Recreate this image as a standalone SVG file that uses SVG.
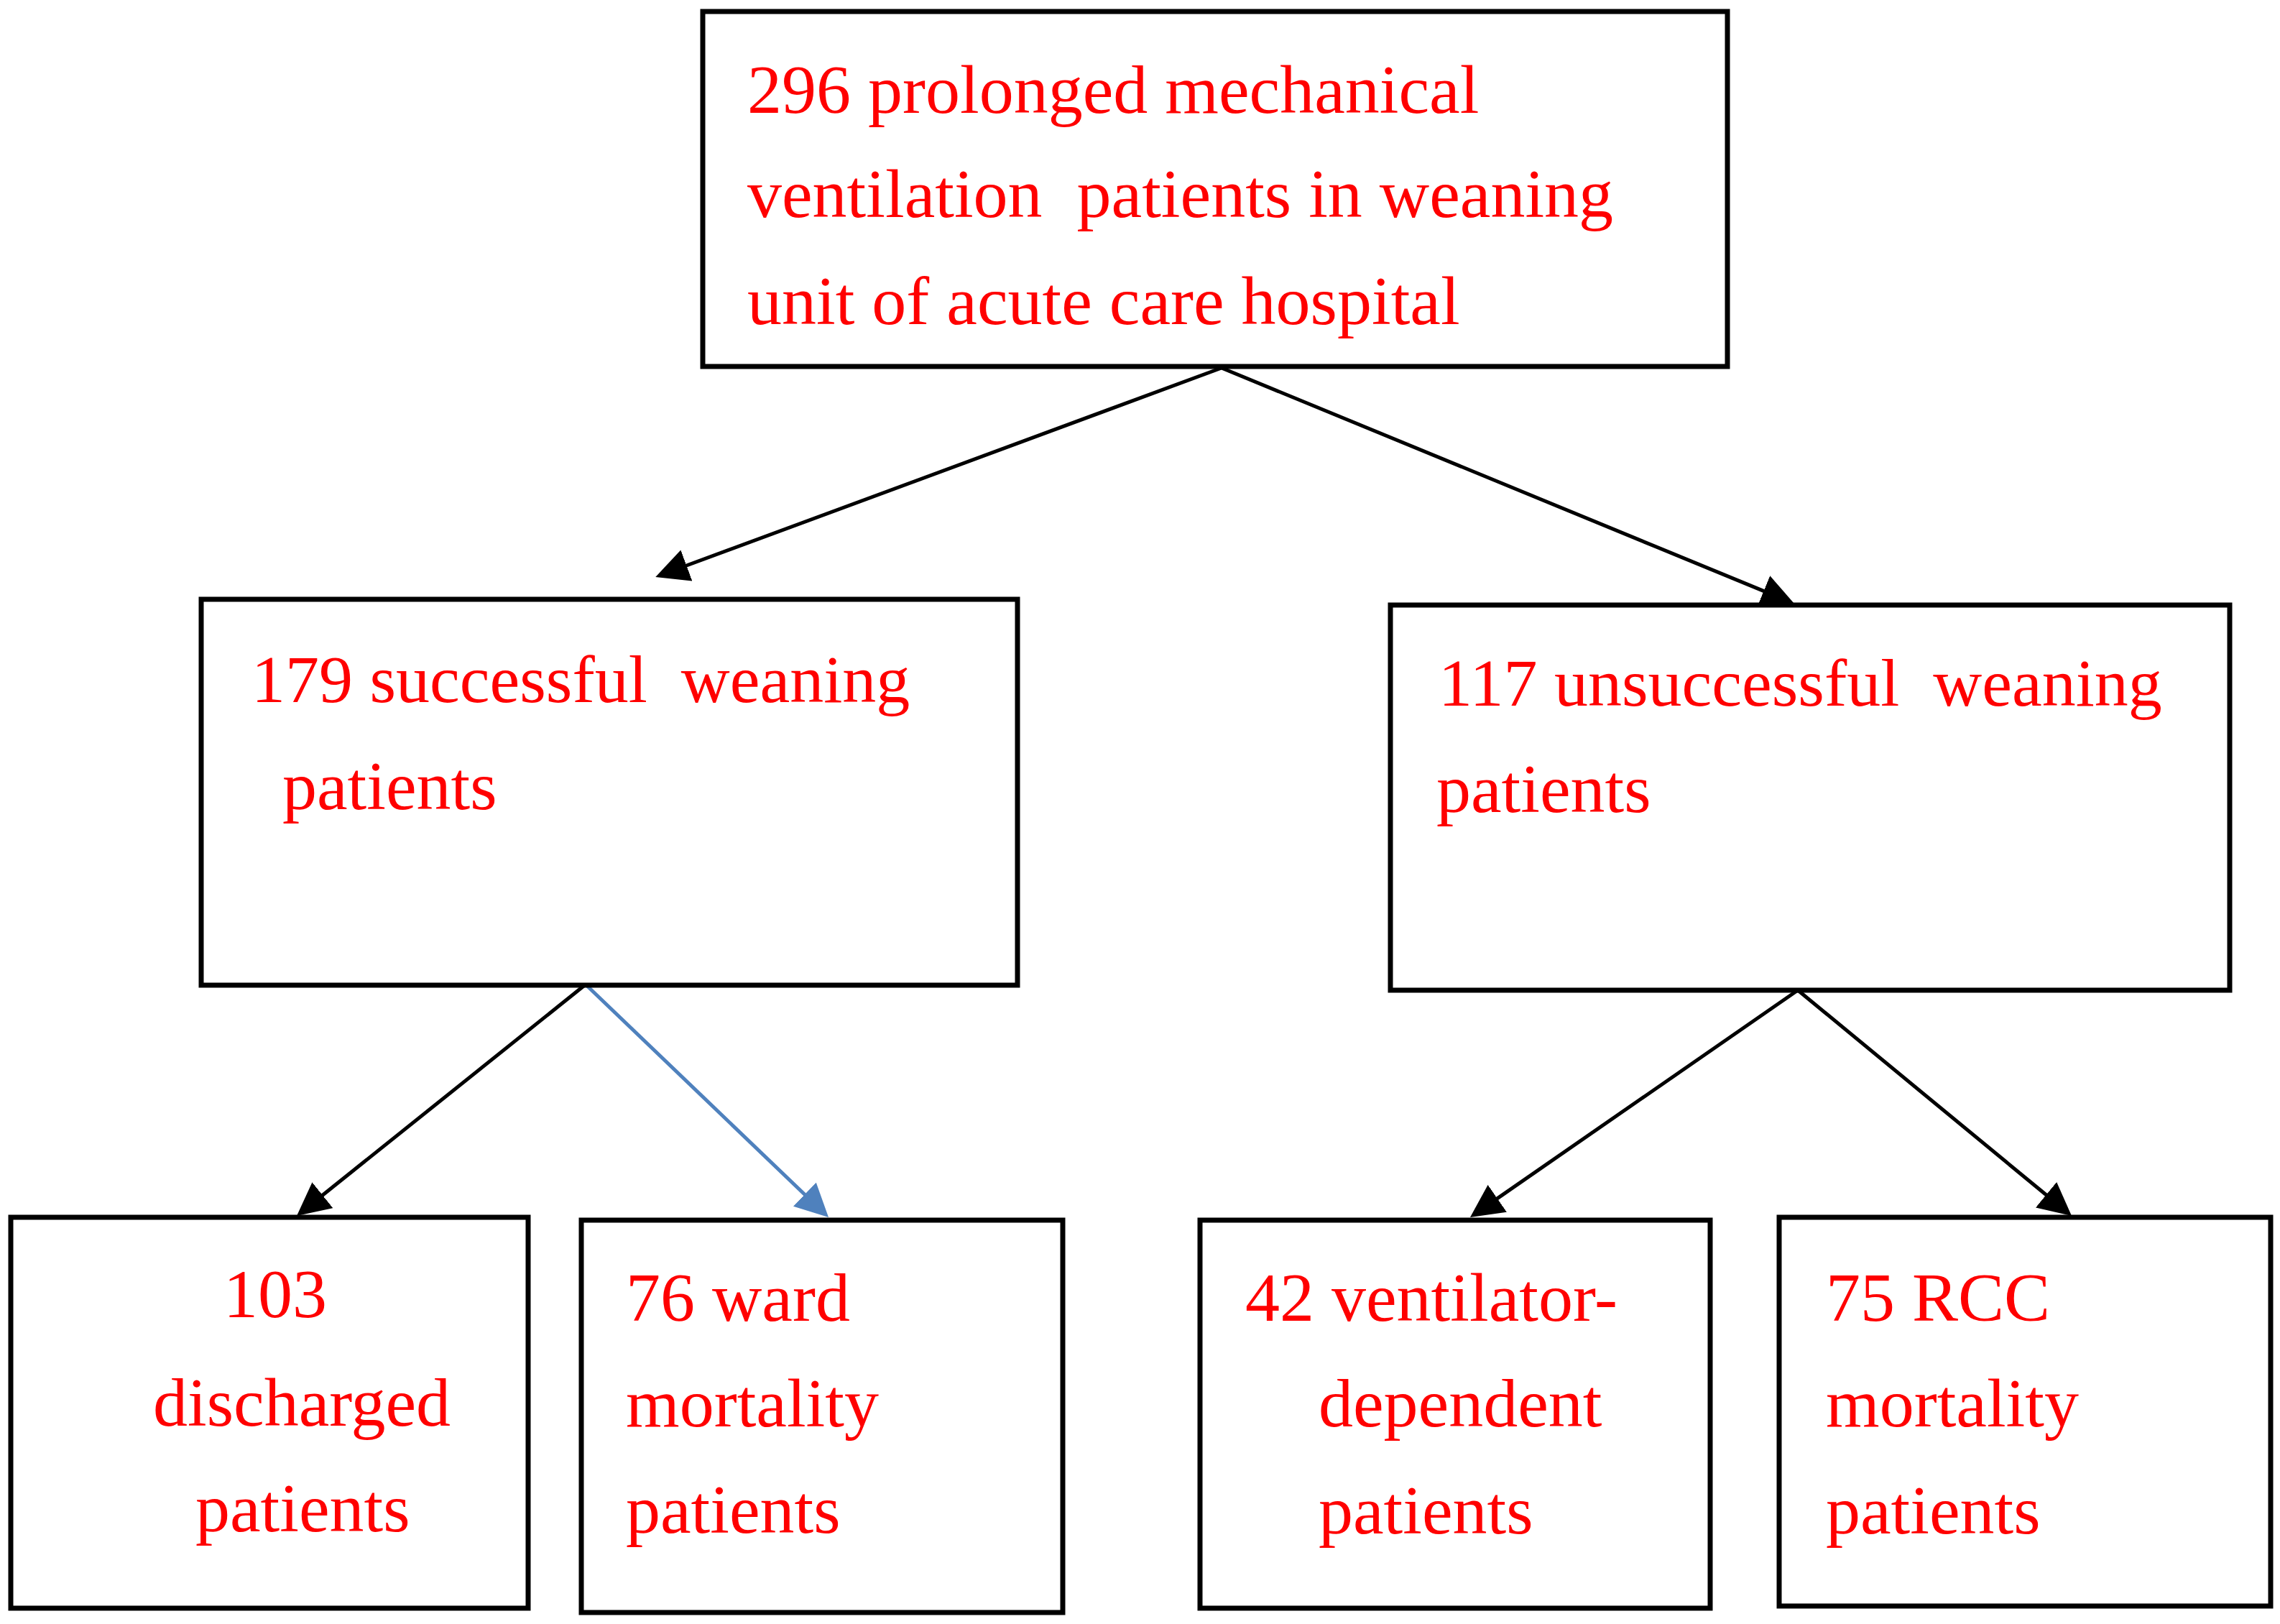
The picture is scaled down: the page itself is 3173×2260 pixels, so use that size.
<svg xmlns="http://www.w3.org/2000/svg" width="3173" height="2260" viewBox="0 0 3173 2260" xml:space="preserve">
<style>
.box{fill:#ffffff;stroke:#000000;stroke-width:7}
.t{font-family:"Liberation Serif","Times New Roman",serif;font-size:96px;fill:#ff0000;white-space:pre}
.m{font-size:94px}
.c{fill:none;stroke:#000000;stroke-width:5}
.cb{fill:none;stroke:#4f81bd;stroke-width:5}
</style>
<defs>
<marker id="ah" markerUnits="userSpaceOnUse" markerWidth="46" markerHeight="46" refX="26" refY="23" orient="auto" viewBox="0 0 46 46"><path d="M0,0 L46,23 L0,46 z" fill="#000000"/></marker>
<marker id="ahb" markerUnits="userSpaceOnUse" markerWidth="46" markerHeight="46" refX="26" refY="23" orient="auto" viewBox="0 0 46 46"><path d="M0,0 L46,23 L0,46 z" fill="#4f81bd"/></marker>
</defs>
<rect width="3173" height="2260" fill="#ffffff"/>
<g id="connectors">
<line class="c" x1="1700" y1="512" x2="931" y2="796" marker-end="url(#ah)"/>
<line class="c" x1="1700" y1="512" x2="2478.5" y2="832.4" marker-end="url(#ah)"/>
<line class="c" x1="815" y1="1370" x2="428.6" y2="1679.5" marker-end="url(#ah)"/>
<line class="cb" x1="815" y1="1370" x2="1138.6" y2="1680.2" marker-end="url(#ahb)"/>
<line class="c" x1="2502" y1="1378" x2="2062.4" y2="1682.6" marker-end="url(#ah)"/>
<line class="c" x1="2502" y1="1378" x2="2867.6" y2="1679.3" marker-end="url(#ah)"/>
</g>
<g id="n-root">
<rect class="box" x="978" y="16" width="1426" height="494"/>
<text class="t" x="1040" y="157">296 prolonged mechanical</text>
<text class="t" x="1040" y="302">ventilation  patients in weaning</text>
<text class="t" x="1040" y="451">unit of acute care hospital</text>
</g>
<g id="n-success">
<rect class="box" x="280" y="834" width="1136" height="537"/>
<text class="t m" x="350" y="977">179 successful  weaning</text>
<text class="t" x="393" y="1126">patients</text>
</g>
<g id="n-unsuccess">
<rect class="box" x="1935" y="842" width="1168" height="536"/>
<text class="t m" x="2002" y="982">117 unsuccessful  weaning</text>
<text class="t" x="1999" y="1130">patients</text>
</g>
<g id="n-discharged">
<rect class="box" x="15" y="1694" width="720" height="544"/>
<text class="t" x="311" y="1833">103</text>
<text class="t" x="213" y="1984">discharged</text>
<text class="t" x="272" y="2131">patients</text>
</g>
<g id="n-ward">
<rect class="box" x="809" y="1698" width="670" height="546"/>
<text class="t" x="871" y="1838">76 ward</text>
<text class="t" x="871" y="1985">mortality</text>
<text class="t" x="871" y="2133">patients</text>
</g>
<g id="n-ventdep">
<rect class="box" x="1670" y="1698" width="710" height="540"/>
<text class="t" x="1733" y="1838">42 ventilator-</text>
<text class="t" x="1835" y="1985">dependent</text>
<text class="t" x="1835" y="2134">patients</text>
</g>
<g id="n-rcc">
<rect class="box" x="2476" y="1694" width="684" height="541"/>
<text class="t" x="2541" y="1838">75 RCC</text>
<text class="t" x="2541" y="1985">mortality</text>
<text class="t" x="2541" y="2134">patients</text>
</g>
</svg>
